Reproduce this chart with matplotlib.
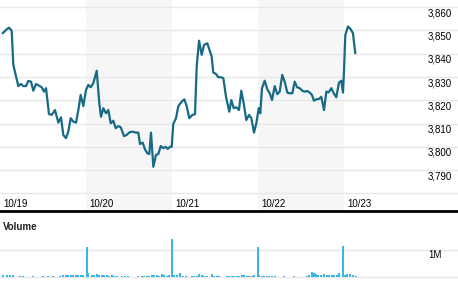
import matplotlib.pyplot as plt
from matplotlib.transforms import blended_transform_factory, offset_copy

plt.rcParams['font.family'] = ['Liberation Sans', 'DejaVu Sans']

# price line: time in trading days since 10/19 open, index level
times = [0.031, 0.078, 0.105, 0.136, 0.155, 0.183, 0.213, 0.244, 0.271, 0.303,
         0.329, 0.361, 0.388, 0.419, 0.454, 0.485, 0.512, 0.536, 0.570, 0.602,
         0.640, 0.679, 0.710, 0.737, 0.768, 0.795, 0.823, 0.853, 0.885, 0.912,
         0.939, 0.970, 1.001, 1.028, 1.056, 1.086, 1.126, 1.156, 1.176, 1.203,
         1.234, 1.261, 1.289, 1.319, 1.347, 1.377, 1.405, 1.444, 1.475, 1.505,
         1.545, 1.583, 1.610, 1.630, 1.661, 1.688, 1.715, 1.738, 1.758, 1.785,
         1.816, 1.843, 1.871, 1.901, 1.929, 1.952, 1.979, 1.999, 2.017, 2.049,
         2.076, 2.115, 2.146, 2.173, 2.204, 2.239, 2.270, 2.290, 2.317, 2.348,
         2.375, 2.413, 2.445, 2.464, 2.483, 2.515, 2.541, 2.573, 2.600, 2.631,
         2.669, 2.693, 2.721, 2.751, 2.782, 2.809, 2.837, 2.867, 2.899, 2.926,
         2.957, 2.984, 3.012, 3.030, 3.050, 3.081, 3.112, 3.140, 3.167, 3.198,
         3.228, 3.256, 3.286, 3.314, 3.345, 3.373, 3.403, 3.431, 3.458, 3.489,
         3.519, 3.547, 3.577, 3.605, 3.632, 3.655, 3.682, 3.714, 3.740, 3.772,
         3.799, 3.827, 3.857, 3.885, 3.915, 3.946, 3.973, 3.993, 4.005, 4.020,
         4.051, 4.083, 4.109, 4.136]
prices = [3848.8, 3850.5, 3851.2, 3849.9, 3835.2, 3830.9, 3826.1, 3827.0, 3826.1, 3826.1,
          3828.3, 3828.0, 3824.1, 3827.0, 3826.3, 3825.6, 3823.7, 3825.2, 3814.1, 3813.7,
          3815.8, 3810.4, 3812.7, 3805.1, 3803.7, 3806.5, 3812.3, 3810.8, 3810.4, 3815.8,
          3822.3, 3817.5, 3824.4, 3826.6, 3825.6, 3827.3, 3832.7, 3818.7, 3812.9, 3816.6,
          3814.4, 3815.8, 3810.1, 3811.2, 3808.0, 3808.9, 3808.4, 3804.6, 3805.1, 3806.2,
          3806.5, 3806.1, 3806.1, 3801.2, 3801.8, 3798.9, 3797.2, 3796.9, 3806.1, 3791.4,
          3796.5, 3796.9, 3800.3, 3799.4, 3800.0, 3799.1, 3800.0, 3800.0, 3809.8, 3812.3,
          3817.5, 3819.4, 3820.4, 3817.5, 3812.3, 3813.7, 3814.0, 3834.5, 3845.6, 3839.5,
          3843.8, 3844.5, 3840.9, 3838.8, 3831.9, 3831.3, 3829.9, 3829.9, 3829.5, 3821.5,
          3815.1, 3820.1, 3816.6, 3817.0, 3815.8, 3824.1, 3818.7, 3811.5, 3813.7, 3812.3,
          3806.1, 3810.1, 3816.6, 3814.4, 3825.2, 3828.4, 3824.7, 3823.0, 3820.1, 3826.1,
          3822.6, 3823.7, 3830.9, 3828.0, 3823.3, 3823.0, 3823.0, 3828.0, 3825.6, 3825.2,
          3824.1, 3823.7, 3824.0, 3823.3, 3822.3, 3819.8, 3820.4, 3820.6, 3821.5, 3815.8,
          3823.7, 3823.4, 3825.2, 3823.0, 3821.3, 3827.6, 3828.4, 3823.3, 3833.0, 3848.1,
          3851.7, 3850.5, 3848.8, 3840.2]

# volume bars (millions)
vol_times = [0.039, 0.078, 0.116, 0.155, 0.233, 0.272, 0.388, 0.504, 0.563, 0.621,
             0.698, 0.737, 0.764, 0.796, 0.823, 0.854, 0.885, 0.912, 0.939, 0.970,
             1.009, 1.028, 1.067, 1.094, 1.125, 1.153, 1.184, 1.211, 1.242, 1.269,
             1.300, 1.327, 1.358, 1.416, 1.455, 1.494, 1.610, 1.649, 1.676, 1.707,
             1.735, 1.766, 1.793, 1.824, 1.851, 1.882, 1.909, 1.940, 1.967, 1.998,
             2.026, 2.057, 2.095, 2.127, 2.161, 2.231, 2.258, 2.289, 2.321, 2.348,
             2.375, 2.406, 2.464, 2.491, 2.522, 2.553, 2.639, 2.670, 2.697, 2.724,
             2.755, 2.786, 2.813, 2.840, 2.872, 2.903, 2.930, 2.957, 3.000, 3.019,
             3.046, 3.077, 3.104, 3.135, 3.163, 3.201, 3.310, 3.423, 3.570, 3.601,
             3.628, 3.655, 3.679, 3.706, 3.733, 3.772, 3.803, 3.834, 3.861, 3.892,
             3.919, 3.950, 3.989, 4.016, 4.043, 4.075, 4.106, 4.144]
volumes = [0.049, 0.062, 0.049, 0.049, 0.037, 0.037, 0.037, 0.037, 0.037, 0.037,
           0.037, 0.049, 0.062, 0.074, 0.049, 0.049, 0.049, 0.049, 0.062, 0.074,
           1.11, 0.148, 0.049, 0.049, 0.111, 0.049, 0.074, 0.049, 0.049, 0.037,
           0.074, 0.037, 0.037, 0.037, 0.037, 0.037, 0.037, 0.037, 0.037, 0.037,
           0.037, 0.074, 0.074, 0.062, 0.037, 0.111, 0.074, 0.037, 0.049, 1.40,
           0.074, 0.049, 0.148, 0.037, 0.037, 0.037, 0.037, 0.037, 0.111, 0.074,
           0.037, 0.037, 0.111, 0.037, 0.037, 0.037, 0.037, 0.037, 0.037, 0.037,
           0.037, 0.037, 0.074, 0.062, 0.037, 0.037, 0.037, 0.074, 1.11, 0.049,
           0.037, 0.037, 0.037, 0.037, 0.037, 0.037, 0.037, 0.037, 0.037, 0.062,
           0.185, 0.148, 0.099, 0.049, 0.049, 0.111, 0.074, 0.074, 0.062, 0.074,
           0.062, 0.148, 1.15, 0.062, 0.111, 0.111, 0.049, 0.037]

day_labels = ['10/19', '10/20', '10/21', '10/22', '10/23']
price_ticks = [3790, 3800, 3810, 3820, 3830, 3840, 3850, 3860]
price_grid = [3780] + price_ticks

W, H = 458, 292
fig = plt.figure(figsize=(W / 100, H / 100), dpi=100)

# ---- price panel ----
ax = fig.add_axes([0, 81 / H, 1, 211 / H])
ax.set_xlim(0, W / 85.9)
ax.set_ylim(3772.4, 3863.1)
ax.axvspan(1, 2, color='#f6f6f6', lw=0, zorder=0)
ax.axvspan(3, 4, color='#f6f6f6', lw=0, zorder=0)
for v in price_grid:
    ax.axhline(v, color='#e8e8e8', lw=1, zorder=1)
ax.plot(times, prices, color='#176a86', lw=1.6, zorder=3,
        solid_joinstyle='round', solid_capstyle='round')

for s in ['top', 'left', 'right']:
    ax.spines[s].set_visible(False)
ax.spines['bottom'].set_color('black')
ax.spines['bottom'].set_linewidth(2)
ax.set_xticks([])
ax.set_yticks([])

ytrans = blended_transform_factory(ax.transAxes, ax.transData)
for v in price_ticks:
    ax.text(452 / W, v - 2.6, f'{v:,}', transform=ytrans,
            ha='right', va='center', fontsize=7, color='black')

xtrans = offset_copy(blended_transform_factory(ax.transData, ax.transAxes),
                     fig=fig, x=3.5, y=0, units='dots')
for i, lab in enumerate(day_labels):
    ax.text(i, 0.035, lab, transform=xtrans, ha='left', va='center',
            fontsize=7, color='black')

# ---- volume panel ----
vax = fig.add_axes([0, 0, 1, 79 / H])
vax.set_xlim(0, W / 85.9)
vax.set_ylim(-0.567, 2.359)
vax.axhline(0, color='#e8e8e8', lw=1, zorder=1)
vax.axhline(1, color='#e8e8e8', lw=1, zorder=1)
vax.bar(vol_times, volumes, width=0.022, color='#38b6e6', lw=0, zorder=2)
for s in vax.spines.values():
    s.set_visible(False)
vax.set_xticks([])
vax.set_yticks([])
vax.text(3 / W, 0.819, 'Volume', transform=vax.transAxes, ha='left',
         va='center', fontsize=7, fontweight='bold', color='#222222')
vtrans = blended_transform_factory(vax.transAxes, vax.transData)
vax.text(442 / W, 0.79, '1M', transform=vtrans, ha='right', va='center',
         fontsize=7, color='black')

fig.savefig('out.png', dpi=100)
